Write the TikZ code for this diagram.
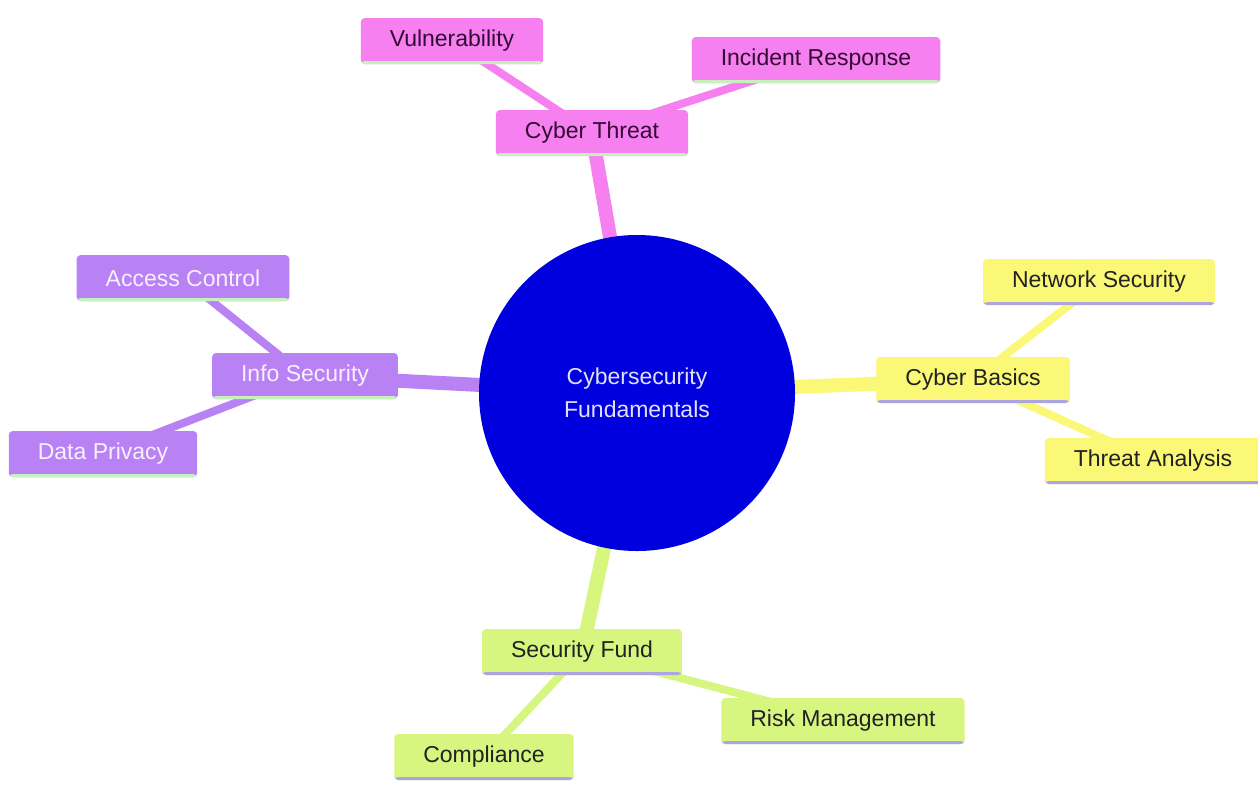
\documentclass[tikz,border=0pt]{standalone}
\usepackage{fontspec}
\setmainfont{Liberation Sans}
\usetikzlibrary{backgrounds}
\definecolor{cpink}{RGB}{246,128,240}
\definecolor{cpinktext}{RGB}{50,10,50}
\definecolor{cpurple}{RGB}{184,130,244}
\definecolor{cpurpletext}{RGB}{248,240,255}
\definecolor{cyellow}{RGB}{250,248,118}
\definecolor{cgreen}{RGB}{214,246,128}
\definecolor{cdark}{RGB}{34,34,34}
\definecolor{cblue}{RGB}{0,0,222}
\definecolor{croottext}{RGB}{225,225,250}
\definecolor{cgline}{RGB}{200,240,190}
\definecolor{clav}{RGB}{172,165,225}
\begin{document}
\begin{tikzpicture}[x=1pt,y=-1pt,
  box/.style={rounded corners=4pt, inner xsep=29pt, inner ysep=0pt, minimum height=46pt,
    font=\fontsize{23}{27}\selectfont},
  uline/.style={path picture={\fill[#1] ([yshift=3pt]path picture bounding box.south west) rectangle (path picture bounding box.south east);}},
  pinkbox/.style={box, fill=cpink, text=cpinktext, uline=cgline},
  purplebox/.style={box, fill=cpurple, text=cpurpletext, uline=cgline},
  yellowbox/.style={box, fill=cyellow, text=cdark, uline=clav},
  greenbox/.style={box, fill=cgreen, text=cdark, uline=clav},
  rootedge/.style={line width=14pt},
  leafedge/.style={line width=8pt}]
\useasboundingbox (0,0) rectangle (1258,785);

\node[circle, fill=cblue, minimum size=316pt, inner sep=0pt, text=croottext, align=center,
  font=\fontsize{23}{33}\selectfont] (root) at (637,393) {Cybersecurity\\Fundamentals};

\node[pinkbox] (ct) at (592,133) {Cyber Threat};
\node[pinkbox] (vul) at (452,41) {Vulnerability};
\node[pinkbox] (ir) at (816,60) {Incident Response};

\node[purplebox] (is) at (305,376) {Info Security};
\node[purplebox] (ac) at (183,278) {Access Control};
\node[purplebox] (dp) at (103,454) {Data Privacy};

\node[yellowbox] (cb) at (973,380) {Cyber Basics};
\node[yellowbox] (ns) at (1099,282) {Network Security};
\node[yellowbox] (ta) at (1153,461) {Threat Analysis};

\node[greenbox] (sf) at (582,652) {Security Fund};
\node[greenbox] (rm) at (843,721) {Risk Management};
\node[greenbox] (co) at (484,757) {Compliance};

\begin{pgfonlayer}{background}
\fill[white] (0,0) rectangle (1258,785);
\draw[rootedge, cpink] (root.center) -- (ct.center);
\draw[leafedge, cpink] (ct.center) -- (vul.center);
\draw[leafedge, cpink] (ct.center) -- (ir.center);
\draw[rootedge, cpurple] (root.center) -- (is.center);
\draw[leafedge, cpurple] (is.center) -- (ac.center);
\draw[leafedge, cpurple] (is.center) -- (dp.center);
\draw[rootedge, cyellow] (root.center) -- (cb.center);
\draw[leafedge, cyellow] (cb.center) -- (ns.center);
\draw[leafedge, cyellow] (cb.center) -- (ta.center);
\draw[rootedge, cgreen] (root.center) -- (sf.center);
\draw[leafedge, cgreen] (sf.center) -- (rm.center);
\draw[leafedge, cgreen] (sf.center) -- (co.center);
\end{pgfonlayer}
\end{tikzpicture}
\end{document}
